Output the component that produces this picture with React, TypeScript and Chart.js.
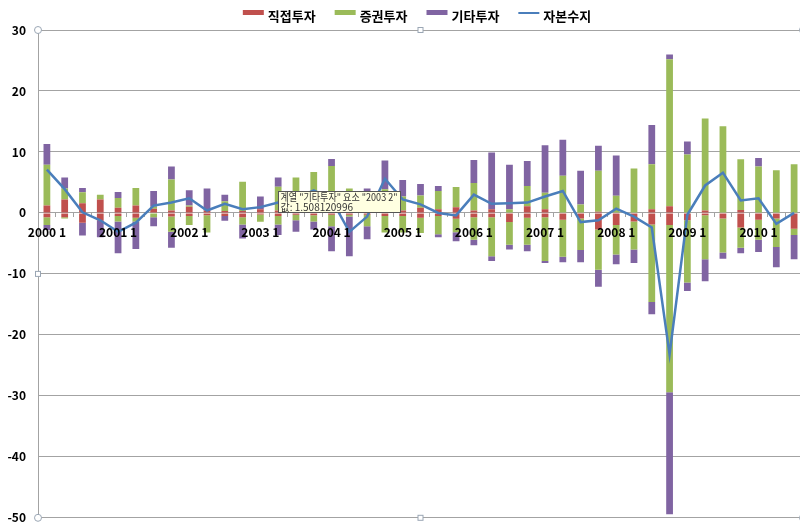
import React, { useEffect, useRef } from 'react';
import { Chart, registerables } from 'chart.js';

Chart.register(...registerables);

// ---- data ----
const categories = [
  '2000 1', '2000 2', '2000 3', '2000 4',
  '2001 1', '2001 2', '2001 3', '2001 4',
  '2002 1', '2002 2', '2002 3', '2002 4',
  '2003 1', '2003 2', '2003 3', '2003 4',
  '2004 1', '2004 2', '2004 3', '2004 4',
  '2005 1', '2005 2', '2005 3', '2005 4',
  '2006 1', '2006 2', '2006 3', '2006 4',
  '2007 1', '2007 2', '2007 3', '2007 4',
  '2008 1', '2008 2', '2008 3', '2008 4',
  '2009 1', '2009 2', '2009 3', '2009 4',
  '2010 1', '2010 2', '2010 3',
];

// 직접투자 (inflow / outflow parts)
const directIn = [1.2, 2.2, 1.6, 2.2, 0.85, 1.2, 0.7, 0.4, 1.0, 0.4, 0.3, 0.3, 0.6, 0.4, 0.3, 0.3, 0.4, 0.2, 0.3, 0.4, 0.4, 0.85, 0.6, 0.95, 0.4, 0.6, 0, 1.1, 0.6, 0, 0, 0.2, 0, 0, 0.6, 1.1, 0, 0.4, 0, 0.5, 0, 0, 0];
const directOut = [-0.7, -0.7, -1.6, -1.3, -0.5, -0.8, -0.1, -0.6, -0.5, -0.4, -0.5, -0.7, -0.25, -0.5, -0.3, -0.4, -0.3, -0.3, -0.3, -0.5, -0.5, -0.8, -0.5, -0.95, -0.7, -0.7, -1.5, -0.8, -0.7, -1.1, -0.9, -2.7, -2.0, -1.4, -1.9, -2.0, -1.2, -0.4, -0.9, -2.4, -1.1, -0.9, -2.6];
// 증권투자
const portfolioIn = [6.7, 1.8, 1.8, 0.8, 1.6, 2.9, 0.3, 5.1, 0.2, 0, 1.6, 4.8, 0, 3.9, 5.5, 6.4, 7.3, 3.8, 2.7, 3.5, 2.3, 2.0, 3.0, 3.3, 4.5, 0, 0.6, 3.3, 2.7, 6.1, 1.4, 6.7, 2.8, 7.3, 7.4, 24.1, 9.6, 15.1, 14.2, 8.3, 7.6, 7.0, 8.0];
const portfolioOut = [-1.3, -0.2, 0, 0, -0.9, -0.6, -0.6, -2.5, -1.5, -2.8, 0, -1.2, -1.2, -1.4, -0.9, -1.0, -1.9, -0.3, -1.9, -2.7, -2.7, -2.5, -3.0, -2.2, -3.7, -6.4, -3.7, -4.4, -7.2, -6.1, -5.2, -6.6, -4.8, -4.6, -12.7, -27.4, -10.2, -7.2, -5.6, -3.3, -3.3, -4.7, -1.0];
// 기타투자
const otherIn = [3.4, 1.8, 0.7, 0, 1.0, 0, 2.6, 2.1, 2.5, 3.6, 1.1, 0, 2.1, 1.508120996, 0, 0, 1.15, 0, 1.0, 4.7, 2.7, 1.9, 0.8, 0, 3.8, 9.3, 7.3, 4.1, 7.8, 5.9, 5.5, 4.1, 6.6, 0, 6.4, 0.8, 2.1, 0, 0, 0, 1.4, 0, 0];
const otherOut = [-0.8, 0, -2.1, -2.7, -5.2, -4.5, -1.5, -2.6, 0, 0, -0.8, -2.3, 0, -1.7, -1.9, -1.3, -4.1, -6.5, -2.1, 0, 0, 0, -0.5, -1.5, -0.9, -0.8, -0.8, -1.1, -0.3, -0.9, -2.0, -2.8, -1.6, -2.2, -2.0, -20.0, -1.4, -3.6, -1.0, -0.9, -2.0, -3.3, -4.0];
// 자본수지
const capitalBalance = [7.1, 3.9, 0.1, -1.2, -3.1, -1.6, 1.2, 1.7, 2.4, 0.4, 1.5, 0.6, 0.95, 1.7, 2.4, 3.7, 2.2, -3.1, -0.6, 5.6, 2.2, 1.4, 0.0, -0.4, 3.0, 1.5, 1.6, 1.7, 2.7, 3.6, -1.5, -1.2, 0.7, -0.6, -2.4, -23.2, -0.3, 4.5, 6.6, 2.05, 2.4, -1.8, 0.0];

const seriesNames = ['직접투자', '증권투자', '기타투자', '자본수지'];
const yMin = -50;
const yMax = 30;
const yStep = 10;
const labelEvery = 4;

const tooltipSeries = '기타투자';
const tooltipCategory = '2003 2';
const tooltipValueText = '1.508120996';

const RED = '#C0504D';
const GREEN = '#9BBB59';
const PURPLE = '#8064A2';
const BLUE = '#4A7EBB';
const GRID = '#a3a3a3';
const FONT = '"Noto Sans CJK KR", "Noto Sans", sans-serif';

const legendPlugin = {
  id: 'customLegend',
  afterDraw(chart: any) {
    const ctx = chart.ctx;
    ctx.save();
    ctx.font = `bold 13px ${FONT}`;
    const colors = [RED, GREEN, PURPLE, BLUE];
    const boxW = 21;
    const gap = 4;
    const itemGap = 19;
    const widths = seriesNames.map((s) => boxW + gap + ctx.measureText(s).width);
    const total = widths.reduce((a, b) => a + b, 0) + itemGap * (seriesNames.length - 1);
    let x = chart.width / 2 - total / 2;
    const yText = 16;
    seriesNames.forEach((s, i) => {
      if (i < 3) {
        ctx.fillStyle = colors[i];
        ctx.fillRect(x, 10, boxW, 5);
      } else {
        ctx.strokeStyle = colors[i];
        ctx.lineWidth = 2;
        ctx.beginPath();
        ctx.moveTo(x, 13);
        ctx.lineTo(x + boxW, 13);
        ctx.stroke();
      }
      ctx.fillStyle = '#000';
      ctx.textBaseline = 'middle';
      ctx.textAlign = 'left';
      ctx.fillText(s, x + boxW + gap, yText);
      x += widths[i] + itemGap;
    });
    ctx.restore();
  },
};

const handlesPlugin = {
  id: 'selectionHandles',
  afterDraw(chart: any) {
    const { left, right, top, bottom } = chart.chartArea;
    const ctx = chart.ctx;
    ctx.save();
    ctx.lineWidth = 1;
    ctx.strokeStyle = '#9aa6b4';
    ctx.fillStyle = '#ffffff';
    const mx = (left + right) / 2;
    const my = (top + bottom) / 2;
    [[left, top], [right, top], [left, bottom], [right, bottom]].forEach(([x, y]) => {
      ctx.beginPath();
      ctx.arc(x, y, 3.5, 0, Math.PI * 2);
      ctx.fill();
      ctx.stroke();
    });
    [[mx, top], [mx, bottom], [left, my], [right, my]].forEach(([x, y]) => {
      ctx.fillRect(x - 2.5, y - 2.5, 5, 5);
      ctx.strokeRect(x - 2.5, y - 2.5, 5, 5);
    });
    ctx.restore();
  },
};

const tipPlugin = {
  id: 'excelTip',
  afterDraw(chart: any) {
    const dsIndex = chart.data.datasets.findIndex((d: any) => d.label === tooltipSeries);
    const idx = categories.indexOf(tooltipCategory);
    if (dsIndex < 0 || idx < 0) return;
    const el = chart.getDatasetMeta(dsIndex).data[idx];
    if (!el) return;
    const ctx = chart.ctx;
    const bx = Math.round(el.x) + 0.5;
    const by = Math.round(el.y) + 13.5;
    const w = 122;
    const h = 21;
    ctx.save();
    ctx.fillStyle = '#ffffe1';
    ctx.strokeStyle = '#555555';
    ctx.lineWidth = 1;
    ctx.fillRect(bx, by, w, h);
    ctx.strokeRect(bx, by, w, h);
    ctx.fillStyle = '#333333';
    ctx.font = `10px ${FONT}`;
    ctx.textBaseline = 'middle';
    ctx.textAlign = 'left';
    ctx.fillText(`계열 "${tooltipSeries}" 요소 "${tooltipCategory}"`, bx + 2, by + 5.5, w - 5);
    ctx.fillText(`값: ${tooltipValueText}`, bx + 2, by + 15.5, w - 5);
    ctx.restore();
  },
};

export default function App() {
  const ref = useRef<HTMLCanvasElement | null>(null);

  useEffect(() => {
    if (!ref.current) return;
    const barCommon = {
      type: 'bar' as const,
      order: 1,
      barPercentage: 0.38,
      categoryPercentage: 1.0,
      borderWidth: 0,
    };
    const chart = new Chart(ref.current, {
      type: 'bar',
      data: {
        labels: categories,
        datasets: [
          { ...barCommon, label: seriesNames[0], data: directIn, backgroundColor: RED },
          { ...barCommon, label: seriesNames[0] + ' ', data: directOut, backgroundColor: RED },
          { ...barCommon, label: seriesNames[1], data: portfolioIn, backgroundColor: GREEN },
          { ...barCommon, label: seriesNames[1] + ' ', data: portfolioOut, backgroundColor: GREEN },
          { ...barCommon, label: seriesNames[2], data: otherIn, backgroundColor: PURPLE },
          { ...barCommon, label: seriesNames[2] + ' ', data: otherOut, backgroundColor: PURPLE },
          {
            type: 'line' as const,
            order: 0,
            label: seriesNames[3],
            data: capitalBalance,
            borderColor: BLUE,
            backgroundColor: BLUE,
            borderWidth: 2.5,
            pointRadius: 0,
            tension: 0,
            fill: false,
          } as any,
        ],
      },
      options: {
        animation: false,
        responsive: true,
        maintainAspectRatio: false,
        devicePixelRatio: 1,
        layout: { padding: { top: 30, bottom: 1, right: 31, left: 0 } },
        plugins: {
          legend: { display: false },
          tooltip: { enabled: false },
        },
        scales: {
          x: {
            stacked: true,
            position: { y: 0 } as any,
            offset: true,
            grid: {
              display: true,
              drawOnChartArea: false,
              drawTicks: true,
              tickLength: 4,
              offset: true,
              color: GRID,
            },
            border: { display: true, color: GRID },
            ticks: {
              z: 1,
              autoSkip: false,
              maxRotation: 0,
              minRotation: 0,
              padding: 8,
              color: '#000',
              font: { family: FONT, size: 12, weight: 'bold' },
              callback: (_v: any, i: number) => (i % labelEvery === 0 ? categories[i] : ''),
            },
          },
          y: {
            stacked: true,
            min: yMin,
            max: yMax,
            afterFit: (s: any) => {
              s.width = 38;
            },
            grid: { color: GRID, drawTicks: false },
            border: { display: true, color: GRID },
            ticks: {
              stepSize: yStep,
              padding: 12,
              color: '#000',
              font: { family: FONT, size: 12, weight: 'bold' },
            },
          },
        },
      },
      plugins: [legendPlugin, handlesPlugin, tipPlugin],
    });
    return () => chart.destroy();
  }, []);

  return (
    <div style={{ position: 'fixed', left: 0, top: 0, width: 800, height: 528, overflow: 'hidden', background: '#fff' }}>
      <div style={{ position: 'absolute', left: 0, top: 0, width: 834, height: 537 }}>
        <canvas ref={ref} />
      </div>
    </div>
  );
}
